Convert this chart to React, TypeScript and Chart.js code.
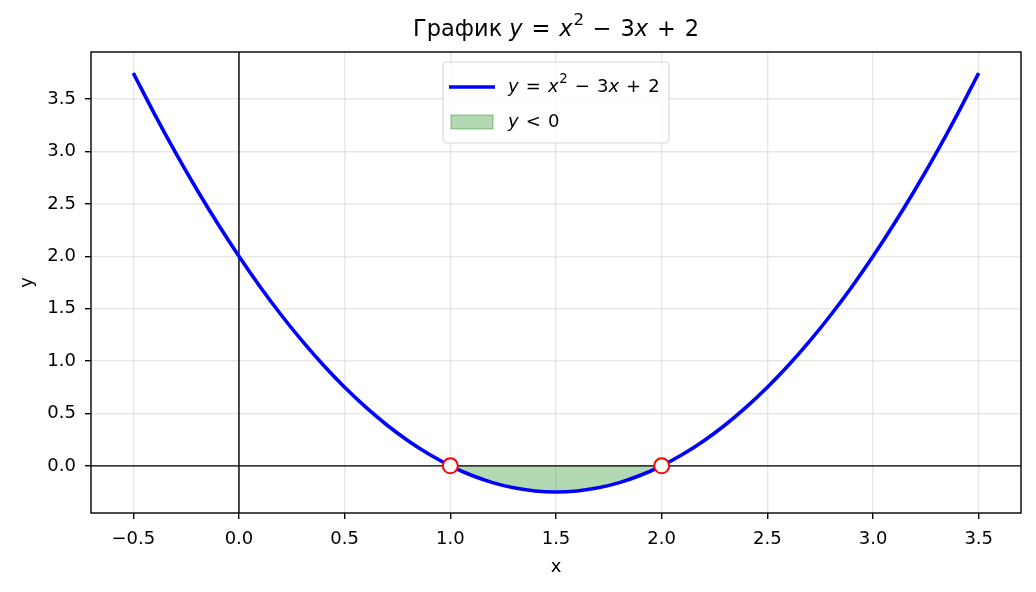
import React, { useEffect, useRef } from "react";
import { Chart, registerables } from "chart.js";

Chart.register(...registerables);

// Data
const curveX = [-0.5, -0.4, -0.3, -0.2, -0.1, 0.0, 0.1, 0.2, 0.3, 0.4, 0.5, 0.6, 0.7, 0.8, 0.9, 1.0, 1.1, 1.2, 1.3, 1.4, 1.5, 1.6, 1.7, 1.8, 1.9, 2.0, 2.1, 2.2, 2.3, 2.4, 2.5, 2.6, 2.7, 2.8, 2.9, 3.0, 3.1, 3.2, 3.3, 3.4, 3.5];
const curveY = [3.75, 3.36, 2.99, 2.64, 2.31, 2.0, 1.71, 1.44, 1.19, 0.96, 0.75, 0.56, 0.39, 0.24, 0.11, 0.0, -0.09, -0.16, -0.21, -0.24, -0.25, -0.24, -0.21, -0.16, -0.09, 0.0, 0.11, 0.24, 0.39, 0.56, 0.75, 0.96, 1.19, 1.44, 1.71, 2.0, 2.31, 2.64, 2.99, 3.36, 3.75];
const negX = [1.0, 1.1, 1.2, 1.3, 1.4, 1.5, 1.6, 1.7, 1.8, 1.9, 2.0];
const negY = [0.0, -0.09, -0.16, -0.21, -0.24, -0.25, -0.24, -0.21, -0.16, -0.09, 0.0];
const rootsX = [1, 2];
const rootsY = [0, 0];
const xTicks = [-0.5, 0.0, 0.5, 1.0, 1.5, 2.0, 2.5, 3.0, 3.5];
const yTicks = [0.0, 0.5, 1.0, 1.5, 2.0, 2.5, 3.0, 3.5];

const FONT = "'DejaVu Sans', sans-serif";

type Part = { t: string; i?: boolean; sup?: boolean; m?: boolean };

const titleParts: Part[] = [
  { t: "График " },
  { t: "y", i: true },
  { t: " = ", m: true },
  { t: "x", i: true },
  { t: "2", sup: true },
  { t: " − ", m: true },
  { t: "3" },
  { t: "x", i: true },
  { t: " + ", m: true },
  { t: "2" },
];
const legendParts1: Part[] = [
  { t: "y", i: true },
  { t: " = ", m: true },
  { t: "x", i: true },
  { t: "2", sup: true },
  { t: " − ", m: true },
  { t: "3" },
  { t: "x", i: true },
  { t: " + ", m: true },
  { t: "2" },
];
const legendParts2: Part[] = [{ t: "y", i: true }, { t: " < ", m: true }, { t: "0" }];

function partFont(p: Part, size: number) {
  const s = p.sup ? size * 0.74 : size;
  return `${p.i ? "italic " : ""}${s}px ${FONT}`;
}

function partWidth(ctx: CanvasRenderingContext2D, p: Part, size: number) {
  ctx.font = partFont(p, size);
  let w = ctx.measureText(p.t).width;
  if (p.m) w += 2 * 0.075 * size;
  if (p.sup) w += 0.04 * size;
  return w;
}

function drawRich(ctx: CanvasRenderingContext2D, parts: Part[], x: number, y: number, size: number, align: "left" | "center") {
  let w = 0;
  for (const p of parts) w += partWidth(ctx, p, size);
  let cx = align === "center" ? x - w / 2 : x;
  ctx.textAlign = "left";
  ctx.textBaseline = "middle";
  ctx.fillStyle = "#000";
  for (const p of parts) {
    ctx.font = partFont(p, size);
    const dy = p.sup ? -size * 0.4 : 0;
    const off = p.m ? 0.075 * size : p.sup ? 0.04 * size : 0;
    ctx.fillText(p.t, cx + off, y + dy);
    cx += partWidth(ctx, p, size);
  }
}

const decorPlugin = {
  id: "decor",
  afterDatasetDraw(chart: any, args: any) {
    if (args.index !== 0) return;
    const { ctx, chartArea: a, scales } = chart;
    const x0 = scales.x.getPixelForValue(0);
    const y0 = scales.y.getPixelForValue(0);
    ctx.save();
    ctx.beginPath();
    ctx.rect(a.left, a.top, a.right - a.left, a.bottom - a.top);
    ctx.clip();
    ctx.strokeStyle = "#000";
    ctx.lineWidth = 1.4;
    ctx.beginPath();
    ctx.moveTo(a.left, y0);
    ctx.lineTo(a.right, y0);
    ctx.moveTo(x0, a.top);
    ctx.lineTo(x0, a.bottom);
    ctx.stroke();
    ctx.restore();
  },
  afterDraw(chart: any) {
    const { ctx, chartArea: a } = chart;
    ctx.save();
    // spines
    ctx.strokeStyle = "#000";
    ctx.lineWidth = 1.4;
    ctx.strokeRect(a.left, a.top, a.right - a.left, a.bottom - a.top);

    // title
    const cx = (a.left + a.right) / 2;
    drawRich(ctx, titleParts, cx, 30, 22.5, "center");

    // axis labels
    ctx.font = `18px ${FONT}`;
    ctx.fillStyle = "#000";
    ctx.textAlign = "center";
    ctx.textBaseline = "middle";
    ctx.fillText("x", cx, 567);
    ctx.save();
    ctx.translate(27, (a.top + a.bottom) / 2);
    ctx.rotate(-Math.PI / 2);
    ctx.fillText("y", 0, 0);
    ctx.restore();

    // legend
    const bw = 226, bh = 81;
    const bx = cx - bw / 2, by = a.top + 10;
    ctx.beginPath();
    (ctx as any).roundRect(bx, by, bw, bh, 4);
    ctx.fillStyle = "rgba(255,255,255,0.8)";
    ctx.fill();
    ctx.strokeStyle = "rgba(204,204,204,0.8)";
    ctx.lineWidth = 1.2;
    ctx.stroke();

    const r1 = by + 25;
    ctx.strokeStyle = "#0000ff";
    ctx.lineWidth = 3.6;
    ctx.beginPath();
    ctx.moveTo(bx + 6, r1);
    ctx.lineTo(bx + 52, r1);
    ctx.stroke();
    drawRich(ctx, legendParts1, bx + 65, r1, 18, "left");

    const r2 = by + 60;
    ctx.fillStyle = "rgba(0,128,0,0.3)";
    ctx.fillRect(bx + 8, r2 - 7, 42, 14);
    ctx.strokeStyle = "rgba(0,128,0,0.3)";
    ctx.lineWidth = 1.4;
    ctx.strokeRect(bx + 8, r2 - 7, 42, 14);
    drawRich(ctx, legendParts2, bx + 65, r2, 18, "left");
    ctx.restore();
  },
};

const fmt = (v: number) => v.toFixed(1).replace("-", "−");

export default function App() {
  const ref = useRef<HTMLCanvasElement>(null);
  useEffect(() => {
    document.body.style.margin = "0";
    const chart = new Chart(ref.current!, {
      type: "scatter",
      data: {
        datasets: [
          {
            data: negX.map((x, i) => ({ x, y: negY[i] })),
            showLine: true,
            fill: { value: 0 },
            backgroundColor: "rgba(0,128,0,0.3)",
            borderWidth: 0,
            borderColor: "rgba(0,0,0,0)",
            pointRadius: 0,
            cubicInterpolationMode: "monotone",
            order: 3,
          },
          {
            data: curveX.map((x, i) => ({ x, y: curveY[i] })),
            showLine: true,
            borderColor: "#0000ff",
            borderWidth: 3.6,
            pointRadius: 0,
            fill: false,
            cubicInterpolationMode: "monotone",
            order: 2,
          },
          {
            data: rootsX.map((x, i) => ({ x, y: rootsY[i] })),
            showLine: false,
            pointRadius: 7.5,
            pointBorderWidth: 2,
            pointBackgroundColor: "#ffffff",
            pointBorderColor: "#ff0000",
            order: 1,
          },
        ],
      } as any,
      options: {
        animation: false,
        responsive: false,
        maintainAspectRatio: false,
        layout: { padding: { top: 52, right: 15, left: 0, bottom: 0 } },
        plugins: { legend: { display: false }, tooltip: { enabled: false }, title: { display: false } },
        scales: {
          x: {
            type: "linear",
            min: -0.7,
            max: 3.7,
            afterBuildTicks: (s: any) => {
              s.ticks = xTicks.map((v) => ({ value: v }));
            },
            afterFit: (s: any) => {
              s.height = 79;
            },
            ticks: {
              callback: (v: any) => fmt(Number(v)),
              font: { family: FONT, size: 18 },
              color: "#000",
              padding: 10,
              maxRotation: 0,
              autoSkip: false,
            },
            grid: {
              color: "rgba(176,176,176,0.3)",
              lineWidth: 1.4,
              tickColor: "#000",
              tickLength: 6,
              tickWidth: 1.4,
            },
            border: { display: false },
          },
          y: {
            type: "linear",
            min: -0.45,
            max: 3.95,
            afterBuildTicks: (s: any) => {
              s.ticks = yTicks.map((v) => ({ value: v }));
            },
            afterFit: (s: any) => {
              s.width = 91;
            },
            ticks: {
              callback: (v: any) => fmt(Number(v)),
              font: { family: FONT, size: 18 },
              color: "#000",
              padding: 9,
              autoSkip: false,
            },
            grid: {
              color: "rgba(176,176,176,0.3)",
              lineWidth: 1.4,
              tickColor: "#000",
              tickLength: 6,
              tickWidth: 1.4,
            },
            border: { display: false },
          },
        },
      } as any,
      plugins: [decorPlugin],
    });
    return () => chart.destroy();
  }, []);
  return (
    <div style={{ width: 1036, height: 592 }}>
      <canvas ref={ref} width={1036} height={592} style={{ width: 1036, height: 592, display: "block" }} />
    </div>
  );
}
